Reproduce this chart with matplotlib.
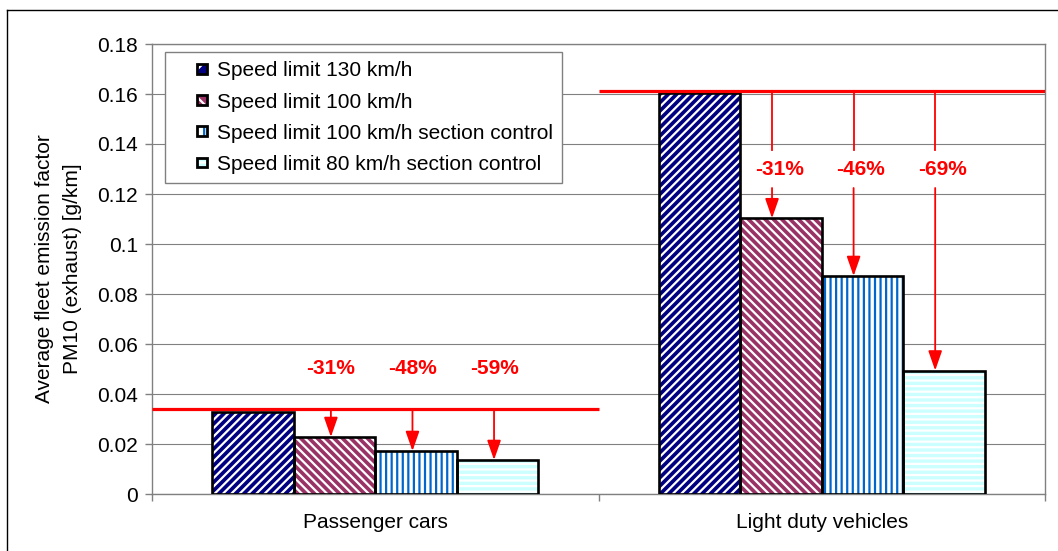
import matplotlib

matplotlib.use("Agg")
import matplotlib.pyplot as plt
import numpy as np
from matplotlib.legend_handler import HandlerPatch
from matplotlib.lines import Line2D
from matplotlib.patches import Patch, Rectangle
from matplotlib.ticker import FuncFormatter

categories = ["Passenger cars", "Light duty vehicles"]
series = [
    "Speed limit 130 km/h",
    "Speed limit 100 km/h",
    "Speed limit 100 km/h section control",
    "Speed limit 80 km/h section control",
]
passenger_cars = [0.0330, 0.0228, 0.0172, 0.0136]
light_duty = [0.1603, 0.1103, 0.0872, 0.0494]
reference_level = [0.034, 0.1612]
change_labels = [["-31%", "-48%", "-59%"], ["-31%", "-46%", "-69%"]]

# (fill colour, hatch colour, hatch)
STYLES = [
    ("#000080", "white", "////"),
    ("#993366", "white", "\\\\\\\\"),
    ("white", "#0066CC", "|||"),
    ("#CCFFFF", "white", "---"),
]

plt.rcParams["font.family"] = ["Liberation Sans", "DejaVu Sans"]
plt.rcParams["font.size"] = 15
plt.rcParams["hatch.linewidth"] = 1.6

GRAY = "#808080"

fig = plt.figure(figsize=(10.58, 5.51), dpi=100)
ax = fig.add_axes([152 / 1058, 1 - 494 / 551, 893 / 1058, 450 / 551])

values = np.array([passenger_cars, light_duty])
x = np.arange(len(categories))
width = 0.1827
for i, (fill, hcol, hatch) in enumerate(STYLES):
    pos = x + (i - 1.5) * width
    ax.bar(pos, values[:, i], width, color=fill, edgecolor=hcol, hatch=hatch,
           linewidth=0, zorder=2)
    ax.bar(pos, values[:, i], width, fill=False, edgecolor="black",
           linewidth=1.9, zorder=3)

# red reference lines and reduction arrows
arrow = dict(arrowstyle="-|>,head_length=0.8,head_width=0.28", mutation_scale=15,
             color="red", lw=1.3, shrinkA=0, shrinkB=0)
for c in range(len(categories)):
    level = reference_level[c]
    ax.plot([c - 0.5, c + 0.5], [level, level], color="red", lw=2.3, zorder=4,
            solid_capstyle="butt")
    for j in range(1, 4):
        bx = x[c] + (j - 1.5) * width
        top = values[c, j]
        if c == 0:
            ax_x = bx - 0.008
            ax.annotate("", xy=(ax_x, top), xytext=(ax_x, level),
                        arrowprops=arrow, zorder=5)
            ax.text(ax_x, 0.050, change_labels[c][j - 1], color="red",
                    fontweight="bold", ha="center", va="center")
        else:
            ax_x = bx - 0.02
            ax.plot([ax_x, ax_x], [level, 0.1376], color="red", lw=1.3, zorder=5)
            ax.annotate("", xy=(ax_x, top), xytext=(ax_x, 0.1224),
                        arrowprops=arrow, zorder=5)
            ax.text(bx - 0.004, 0.1298, change_labels[c][j - 1], color="red",
                    fontweight="bold", ha="center", va="center")

ax.set_xlim(-0.5, 1.5)
ax.set_ylim(0, 0.18)
ax.set_yticks(np.arange(0, 0.181, 0.02))
ax.yaxis.set_major_formatter(FuncFormatter(lambda v, _: f"{v:g}"))
ax.grid(axis="y", color=GRAY, lw=0.8, zorder=0)
ax.set_axisbelow(True)
ax.set_xticks([-0.5, 0.5, 1.5])
ax.set_xticklabels([])
ax.set_xticks(x, minor=True)
ax.set_xticklabels(categories, minor=True)
ax.tick_params(axis="x", which="minor", length=0, pad=14)
ax.tick_params(axis="x", which="major", length=5, color=GRAY, width=1)
ax.tick_params(axis="y", length=5, color=GRAY, width=1, pad=5)
for side in ["left", "right", "top", "bottom"]:
    ax.spines[side].set_color(GRAY)
    ax.spines[side].set_linewidth(1.0)

ax.set_ylabel("Average fleet emission factor\nPM10 (exhaust) [g/km]",
              linespacing=1.6)
ax.yaxis.label.set(va="center", ha="center")
ax.yaxis.set_label_coords(-0.105, 0.5)


def small_square(legend, orig_handle, xdescent, ydescent, width, height, fontsize):
    s = 7
    return Rectangle((-xdescent + width - s, -ydescent + (height - s) / 2), s, s)


handles = []
for fill, hcol, hatch in STYLES:
    handles.append((Patch(facecolor=fill, edgecolor=hcol, hatch=hatch[:2], linewidth=0),
                    Patch(fill=False, edgecolor="black", linewidth=2.0)))
leg = ax.legend(handles, series, loc="upper left", bbox_to_anchor=(0.0146, 0.982),
                borderaxespad=0, fancybox=False, frameon=True, edgecolor=GRAY,
                framealpha=1, handlelength=1.57, handletextpad=0.48,
                borderpad=0.45, labelspacing=0.58,
                handler_map={Patch: HandlerPatch(patch_func=small_square)})
leg.get_frame().set_linewidth(1.0)
leg.set_zorder(6)

# outer chart border (only top and left edges fall inside the picture)
fig.add_artist(Line2D([7 / 1058, 1.0], [1 - 10 / 551, 1 - 10 / 551],
                      transform=fig.transFigure, color="black", lw=1))
fig.add_artist(Line2D([7 / 1058, 7 / 1058], [0.0, 1 - 10 / 551],
                      transform=fig.transFigure, color="black", lw=1))

fig.savefig("out.png", dpi=100)
